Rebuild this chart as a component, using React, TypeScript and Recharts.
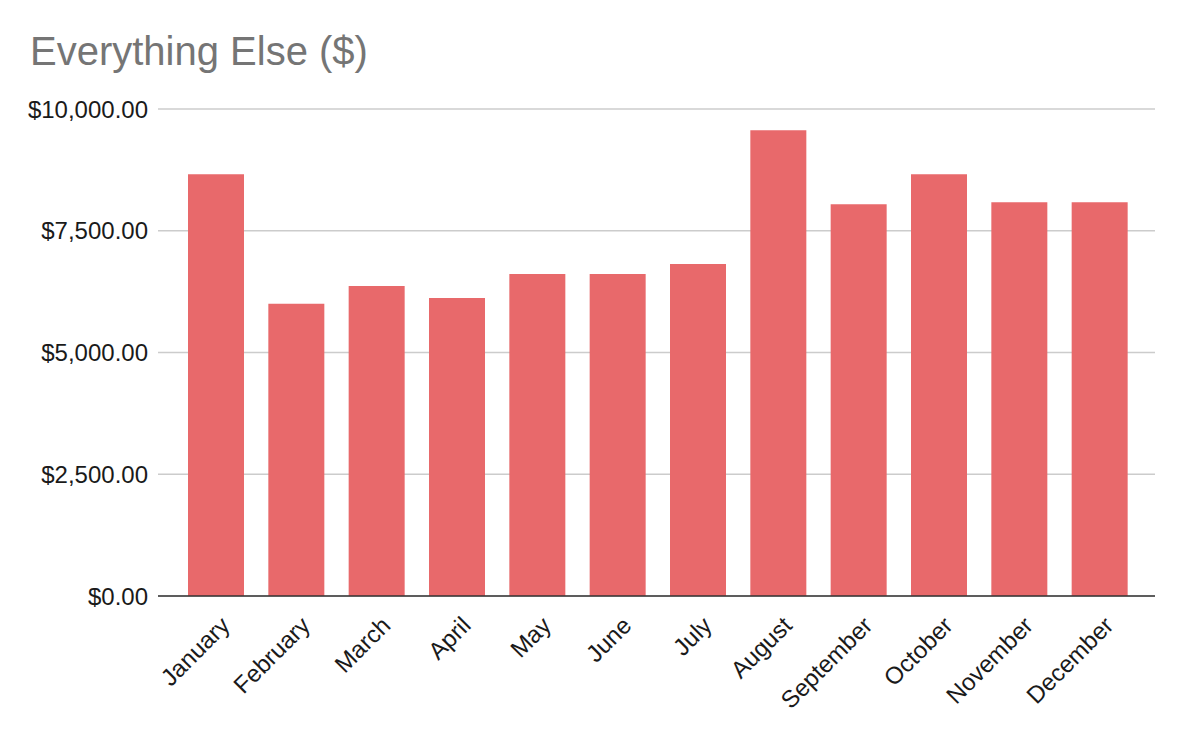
import React from 'react';
import { BarChart, Bar, XAxis, YAxis, CartesianGrid } from 'recharts';

const months = ['January', 'February', 'March', 'April', 'May', 'June', 'July', 'August', 'September', 'October', 'November', 'December'];
const everythingElse = [8660, 6000, 6365, 6120, 6610, 6610, 6815, 9565, 8045, 8660, 8085, 8085];
const yTicks = [0, 2500, 5000, 7500, 10000];

const data = months.map((m, i) => ({ month: m, value: everythingElse[i] }));

const FONT = '"Liberation Sans", Arial, Helvetica, sans-serif';

const fmt = (v: number) =>
  '$' + v.toLocaleString('en-US', { minimumFractionDigits: 2, maximumFractionDigits: 2 });

const XTick = (props: any) => {
  const { x, y, payload } = props;
  const ax = x + 15;
  const ay = y + 3;
  return (
    <text
      x={ax}
      y={ay}
      transform={`rotate(-45, ${ax}, ${ay})`}
      textAnchor="end"
      fontSize={24}
      fontFamily={FONT}
      fill="#1a1a1a"
    >
      {payload.value}
    </text>
  );
};

export default function App() {
  return (
    <div style={{ position: 'absolute', left: 0, top: 0, width: 1184, height: 732, background: '#fff' }}>
      <div
        style={{
          position: 'absolute',
          left: 30,
          top: 31,
          fontSize: 40,
          lineHeight: '40px',
          fontFamily: FONT,
          color: '#757575',
          whiteSpace: 'nowrap',
        }}
      >
        Everything Else ($)
      </div>
      <BarChart
        width={1184}
        height={732}
        data={data}
        margin={{ top: 109, right: 29, bottom: 0, left: 0 }}
        barSize={56}
      >
        <CartesianGrid vertical={false} stroke="#cccccc" strokeWidth={1.5} />
        <XAxis
          dataKey="month"
          height={136}
          interval={0}
          padding={{ left: 18, right: 15 }}
          tickLine={false}
          tickSize={0}
          tickMargin={28}
          axisLine={{ stroke: '#333333', strokeWidth: 1.5 }}
          tick={<XTick />}
        />
        <YAxis
          width={158}
          domain={[0, 10000]}
          ticks={yTicks}
          tickFormatter={fmt}
          axisLine={false}
          tickLine={false}
          tickSize={0}
          tickMargin={10}
          tick={{ fontSize: 24, fill: '#1a1a1a', fontFamily: FONT }}
        />
        <Bar dataKey="value" fill="#e8696b" isAnimationActive={false} />
      </BarChart>
    </div>
  );
}
